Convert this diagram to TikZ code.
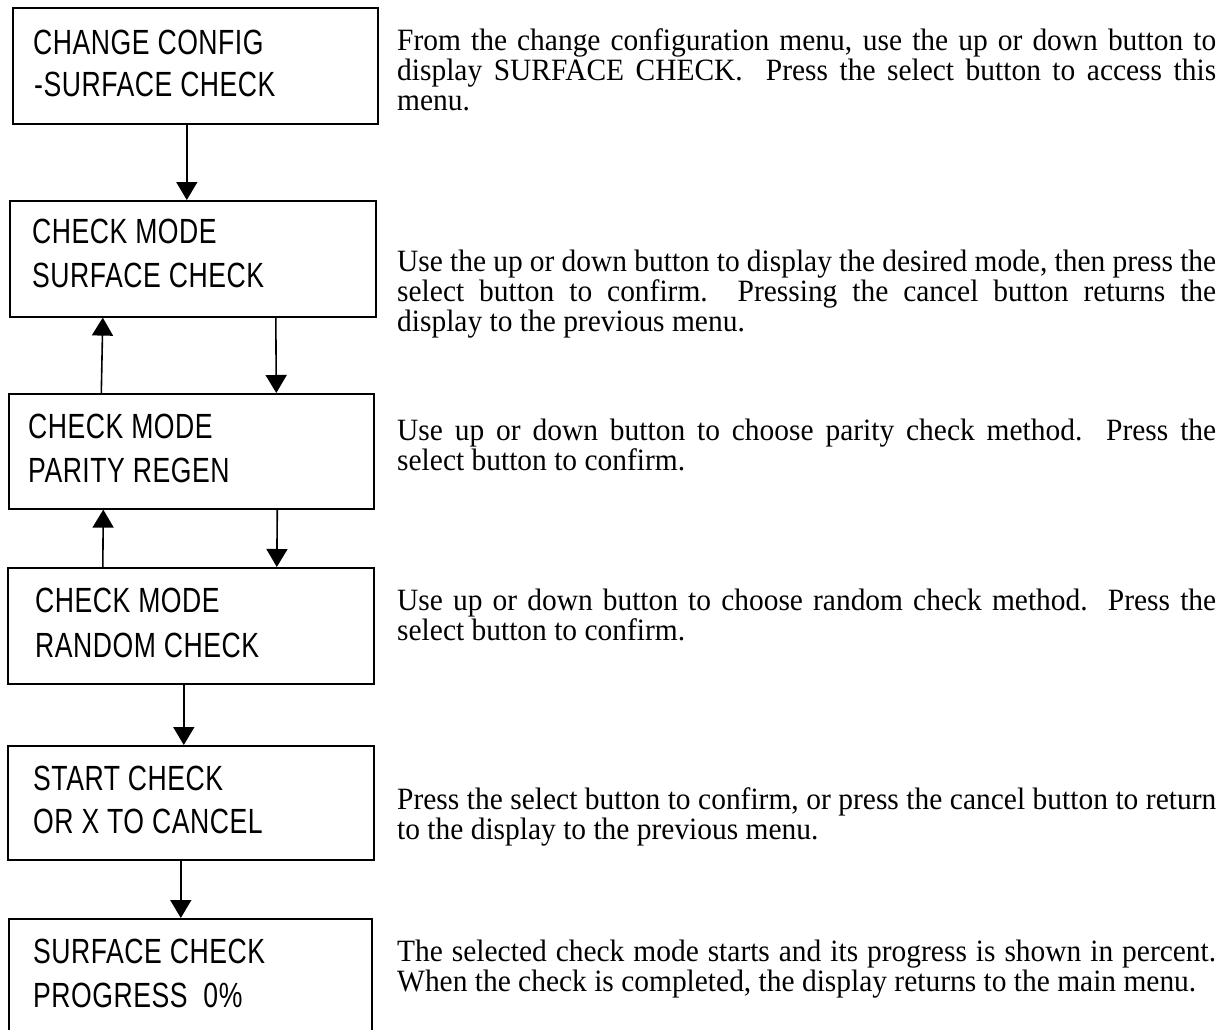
\documentclass[tikz,border=0pt]{standalone}
\usepackage{fontspec}
\setmainfont{Liberation Serif}[FakeStretch=0.95]
\newfontfamily\lcdfont[FakeStretch=0.76,LetterSpace=1.5]{Liberation Sans}
\usetikzlibrary{arrows.meta}
\tikzset{
  menubox/.style={draw, line width=1.6pt, rectangle, inner sep=0pt, anchor=north west},
  boxline/.style={anchor=base west, inner sep=0pt, font=\lcdfont\fontsize{35}{35}\selectfont},
  desc/.style={anchor=base west, inner sep=0pt},
  arr/.style={line width=1.6pt, -{Triangle[width=21pt,length=18pt]}}
}
\newcommand{\desctext}[1]{\parbox[t]{819pt}{\tolerance=10000\hyphenpenalty=10000\fontsize{31}{30}\selectfont #1}}
\begin{document}
\begin{tikzpicture}[x=1pt,y=-1pt]
\clip (0,0) rectangle (1228,1030);
\fill[white] (0,0) rectangle (1228,1030);
% boxes
\node[menubox, minimum width=365pt, minimum height=116pt] (b1) at (12,7) {};
\node[menubox, minimum width=366pt, minimum height=116pt] (b2) at (9,200) {};
\node[menubox, minimum width=365pt, minimum height=115pt] (b3) at (8,393) {};
\node[menubox, minimum width=366pt, minimum height=116pt] (b4) at (7,567) {};
\node[menubox, minimum width=366pt, minimum height=114pt] (b5) at (7,745) {};
\node[menubox, minimum width=363pt, minimum height=130pt] (b6) at (8,918) {};
% box texts
\node[boxline] (t1a) at (33,55) {CHANGE CONFIG};
\node[boxline] (t1b) at (34,97) {-SURFACE CHECK};
\node[boxline] (t2a) at (32,243) {CHECK MODE};
\node[boxline] (t2b) at (32,287) {SURFACE CHECK};
\node[boxline] (t3a) at (28,438) {CHECK MODE};
\node[boxline] (t3b) at (28,482) {PARITY REGEN};
\node[boxline] (t4a) at (35,612) {CHECK MODE};
\node[boxline] (t4b) at (35,657) {RANDOM CHECK};
\node[boxline] (t5a) at (33,790) {START CHECK};
\node[boxline] (t5b) at (33,833) {OR X TO CANCEL};
\node[boxline] (t6a) at (33,963) {SURFACE CHECK};
\node[boxline] (t6b) at (33,1007) {PROGRESS\ \ 0\%};
% arrows
\draw[arr] ([xshift=-8.5pt]b1.south) -- ([xshift=-6pt]b2.north);
\draw[arr] ([xshift=-90pt]b3.north) -- ([xshift=-90pt]b2.south);
\draw[arr] ([xshift=83pt]b2.south) -- ([xshift=85pt]b3.north);
\draw[arr] ([xshift=-88pt]b4.north) -- ([xshift=-88pt]b3.south);
\draw[arr] ([xshift=86pt]b3.south) -- ([xshift=86pt]b4.north);
\draw[arr] ([xshift=-7pt]b4.south) -- ([xshift=-7pt]b5.north);
\draw[arr] ([xshift=-10pt]b5.south) -- ([xshift=-9.5pt]b6.north);
% descriptions
\node[desc] (d1) at (397,51) {\desctext{From the change configuration menu, use the up or down button to\linebreak display SURFACE CHECK.\ \ Press the select button to access this\linebreak menu.}};
\node[desc] (d2) at (397,271) {\desctext{Use the up or down button to display the desired mode, then press the\linebreak select button to confirm.\ \ Pressing the cancel button returns the\linebreak display to the previous menu.}};
\node[desc] (d3) at (397,440) {\desctext{Use up or down button to choose parity check method.\ \ Press the\linebreak select button to confirm.}};
\node[desc] (d4) at (397,610) {\desctext{Use up or down button to choose random check method.\ \ Press the\linebreak select button to confirm.}};
\node[desc] (d5) at (397,809) {\desctext{Press the select button to confirm, or press the cancel button to return\linebreak to the display to the previous menu.}};
\node[desc] (d6) at (397,961) {\desctext{The selected check mode starts and its progress is shown in percent.\linebreak When the check is completed, the display returns to the main menu.}};
\end{tikzpicture}
\end{document}
